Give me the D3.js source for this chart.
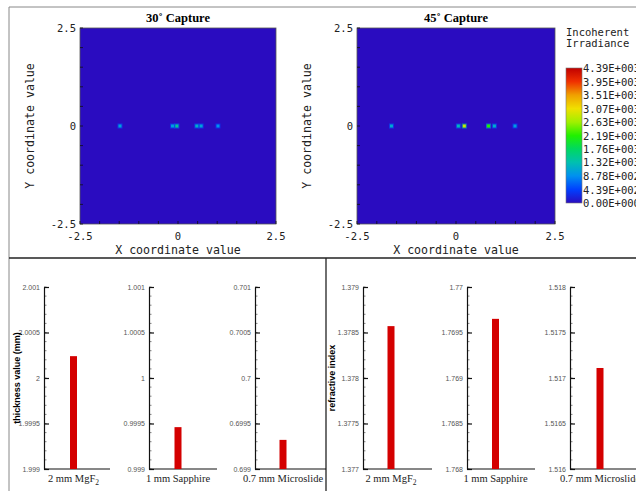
<!DOCTYPE html>
<meta charset="utf-8">
<style>
  body { margin: 0; background: #fff; }
  .mono { font-family: "DejaVu Sans Mono", monospace; fill: #222; }
  .ptitle { font-family: "Liberation Serif", serif; font-weight: bold; font-size: 12.5px; text-anchor: middle; }
  .btick text { font-family: "Liberation Sans", Arial, sans-serif; font-size: 7px; fill: #555; }
  .cat { font-family: "Liberation Serif", serif; font-size: 10.5px; text-anchor: middle; fill: #222; }
  .ylab { font-family: "Liberation Sans", Arial, sans-serif; font-weight: bold; font-size: 9px; text-anchor: middle; }
</style>
<script src="https://d3js.org/d3.v7.min.js"></script>
<body>
<script>
  var w = 636, h = 491;

  // top: detector captures (spot x position, intensity)
  var captureTitles = ["30\u02DA Capture", "45\u02DA Capture"];
  var spots30X = [-1.48, -0.14, -0.03, 0.48, 0.59, 1.02];
  var spots30I = [1050, 1000, 1450, 1150, 1050, 900];
  var spots45X = [-1.63, 0.06, 0.21, 0.82, 0.97, 1.49];
  var spots45I = [1100, 1250, 2850, 2200, 1150, 1000];
  var axisTicks = [-2.5, 0, 2.5];
  var cbarLabels = ["4.39E+003", "3.95E+003", "3.51E+003", "3.07E+003", "2.63E+003",
                    "2.19E+003", "1.76E+003", "1.32E+003", "8.78E+002", "4.39E+002", "0.00E+000"];
  var cbarStops = [0, 439, 878, 1320, 1760, 2190, 2630, 3070, 3510, 3950, 4390];
  var cbarColors = ["#2a0cc0", "#0040ff", "#0090f0", "#00c0b0", "#00d860", "#20f000",
                    "#a0f000", "#f0e000", "#f0a000", "#f03000", "#c00000"];

  // bottom: measured thickness and refractive index
  var samples = ["2 mm MgF2", "1 mm Sapphire", "0.7 mm Microslide"];
  var thickness = [2.00024, 0.99946, 0.69932];
  var thickDomains = [[1.999, 2.001], [0.999, 1.001], [0.699, 0.701]];
  var refIndex = [1.37857, 1.76965, 1.51711];
  var refDomains = [[1.377, 1.379], [1.768, 1.77], [1.516, 1.518]];

  var svg = d3.select("body").append("svg").attr("width", w).attr("height", h);

  // frame lines
  svg.append("path").attr("d", "M9,491V7H636").attr("fill", "none").attr("stroke", "#888").attr("stroke-width", 1);
  svg.append("line").attr("x1", 9).attr("x2", 636).attr("y1", 258).attr("y2", 258).attr("stroke", "#222").attr("stroke-width", 1.3);
  svg.append("line").attr("x1", 326).attr("x2", 326).attr("y1", 258).attr("y2", 491).attr("stroke", "#222").attr("stroke-width", 1.3);

  var color = d3.scaleLinear().domain(cbarStops).range(cbarColors).clamp(true);

  function capture(x0, x1, title, xs, is) {
    var x = d3.scaleLinear().domain([-2.5, 2.5]).range([x0, x1]);
    var y = d3.scaleLinear().domain([-2.5, 2.5]).range([224, 28]);
    var g = svg.append("g");
    g.append("rect").attr("x", x0).attr("y", 28).attr("width", x1 - x0).attr("height", 196)
      .attr("fill", color(0)).attr("stroke", "#555").attr("stroke-width", 0.8);
    // minor ticks
    var minor = d3.range(-2.5, 2.51, 0.5);
    g.selectAll(".mx").data(minor).enter().append("line")
      .attr("x1", d => x(d)).attr("x2", d => x(d)).attr("y1", 224).attr("y2", 221)
      .attr("stroke", "#111").attr("stroke-width", 0.8);
    g.selectAll(".my").data(minor).enter().append("line")
      .attr("y1", d => y(d)).attr("y2", d => y(d)).attr("x1", x0).attr("x2", x0 + 3)
      .attr("stroke", "#111").attr("stroke-width", 0.8);
    // spots, with a faint halo
    g.selectAll(".halo").data(xs).enter().append("rect")
      .attr("x", d => x(d) - 2.5).attr("y", y(0) - 2.5).attr("width", 5).attr("height", 5)
      .attr("fill", (d, i) => color(is[i] * 0.5)).attr("opacity", 0.6);
    g.selectAll(".spot").data(xs).enter().append("rect")
      .attr("x", d => x(d) - 1.5).attr("y", y(0) - 1.5).attr("width", 3).attr("height", 3)
      .attr("fill", (d, i) => color(is[i]));
    g.selectAll(".xt").data(axisTicks).enter().append("text").attr("class", "mono")
      .attr("x", d => x(d)).attr("y", 240).attr("text-anchor", "middle")
      .style("font-size", "10.5px").text(d => d);
    g.selectAll(".yt").data(axisTicks).enter().append("text").attr("class", "mono")
      .attr("x", x0 - 4).attr("y", d => y(d) + 4).attr("text-anchor", "end")
      .style("font-size", "10.5px").text(d => d);
    g.append("text").attr("class", "ptitle").attr("x", (x0 + x1) / 2).attr("y", 21.5).text(title);
    g.append("text").attr("class", "mono").attr("x", (x0 + x1) / 2).attr("y", 253.5)
      .attr("text-anchor", "middle").style("font-size", "11.6px").text("X coordinate value");
    g.append("text").attr("class", "mono")
      .attr("transform", "translate(" + (x0 - 46) + ",126) rotate(-90)")
      .attr("text-anchor", "middle").style("font-size", "11.6px").text("Y coordinate value");
  }
  capture(80, 276, captureTitles[0], spots30X, spots30I);
  capture(357, 555, captureTitles[1], spots45X, spots45I);

  // colour bar
  var cb = d3.scaleLinear().domain([0, 4390]).range([203, 68]);
  var grad = svg.append("defs").append("linearGradient").attr("id", "cbar")
    .attr("x1", 0).attr("x2", 0).attr("y1", 1).attr("y2", 0);
  grad.selectAll("stop").data(cbarStops).enter().append("stop")
    .attr("offset", d => d / 4390).attr("stop-color", (d, i) => cbarColors[i]);
  svg.append("rect").attr("x", 566).attr("y", 68).attr("width", 16).attr("height", 135)
    .attr("fill", "url(#cbar)").attr("stroke", "#777").attr("stroke-width", 0.6);
  svg.selectAll(".cbl").data(cbarLabels).enter().append("text").attr("class", "mono")
    .attr("x", 583).attr("y", (d, i) => cb(cbarStops[cbarStops.length - 1 - i]) + 4)
    .style("font-size", "10.5px").text(d => d);
  svg.append("text").attr("class", "mono").attr("x", 566).attr("y", 36).style("font-size", "10.5px").text("Incoherent");
  svg.append("text").attr("class", "mono").attr("x", 566).attr("y", 47).style("font-size", "10.5px").text("Irradiance");

  // bar subcharts
  function barChart(ax, axEnd, barX, cat, value, dom) {
    var y = d3.scaleLinear().domain(dom).range([469, 287]);
    var x = d3.scaleBand().domain([cat]).range([ax, barX * 2 - ax]);
    var g = svg.append("g");
    var minor = d3.range(0, 21).map(k => dom[0] + k * (dom[1] - dom[0]) / 20);
    g.selectAll(".mn").data(minor).enter().append("line")
      .attr("x1", ax).attr("x2", ax + 2.5).attr("y1", d => y(d)).attr("y2", d => y(d))
      .attr("stroke", "#333").attr("stroke-width", 0.6);
    var majors = d3.range(0, 5).map(k => dom[0] + k * (dom[1] - dom[0]) / 4);
    g.append("g").attr("class", "btick").attr("transform", "translate(" + ax + ",0)")
      .call(d3.axisLeft(y).tickValues(majors).tickSizeInner(-5).tickSizeOuter(0).tickPadding(4)
        .tickFormat(d => +d.toFixed(4)))
      .call(s => s.selectAll("line,path").attr("stroke", "#111").attr("stroke-width", 1.2));
    g.append("line").attr("x1", ax).attr("x2", axEnd).attr("y1", 469).attr("y2", 469)
      .attr("stroke", "#111").attr("stroke-width", 1.2);
    g.append("rect").attr("x", x(cat) + x.bandwidth() / 2 - 3.5).attr("width", 7)
      .attr("y", y(value)).attr("height", 469 - y(value)).attr("fill", "#d40000");
    var t = g.append("text").attr("class", "cat").attr("x", x(cat) + x.bandwidth() / 2).attr("y", 482);
    if (cat.slice(-1) === "2") {
      t.append("tspan").text(cat.slice(0, -1));
      t.append("tspan").attr("dy", 2.5).style("font-size", "7.5px").text("2");
    } else {
      t.text(cat);
    }
  }
  var leftAx = [44, 149, 255], leftEnd = [110, 217, 326], leftBar = [73.5, 178, 283];
  var rightAx = [363, 467, 570], rightEnd = [432, 535, 636], rightBar = [391, 495.5, 600];
  samples.forEach(function (s, i) {
    barChart(leftAx[i], leftEnd[i], leftBar[i], s, thickness[i], thickDomains[i]);
    barChart(rightAx[i], rightEnd[i], rightBar[i], s, refIndex[i], refDomains[i]);
  });
  svg.append("text").attr("class", "ylab").attr("transform", "translate(20,378) rotate(-90)").text("thickness value (mm)");
  svg.append("text").attr("class", "ylab").attr("transform", "translate(335,378) rotate(-90)").text("refractive index");
</script>
</body>
